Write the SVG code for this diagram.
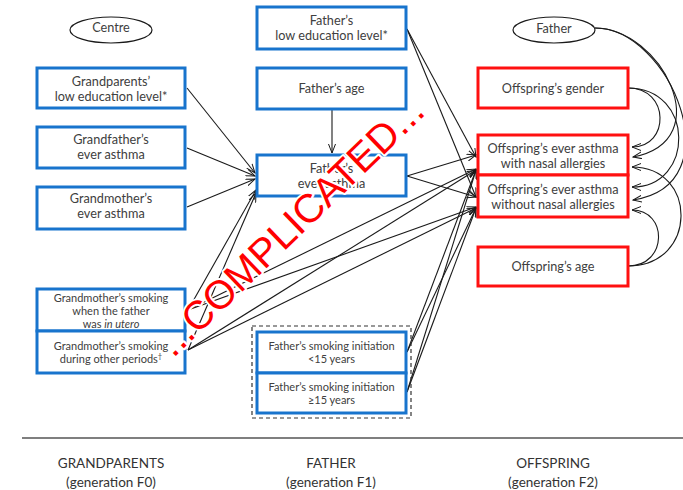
<svg xmlns="http://www.w3.org/2000/svg" width="683" height="490" viewBox="0 0 683 490">
  <style>
    .bb { fill: #ffffff; stroke: #1874cd; stroke-width: 3; }
    .rb { fill: #ffffff; stroke: #ff1010; stroke-width: 3; }
    .el { fill: #ffffff; stroke: #1a1a1a; stroke-width: 1.2; }
    .dash { fill: none; stroke: #333333; stroke-width: 1.2; stroke-dasharray: 4 3; }
    .t { font-family: Lato, "Liberation Sans", sans-serif; font-size: 12.7px; fill: #404040; text-anchor: middle; }
    .s { font-family: Lato, "Liberation Sans", sans-serif; font-size: 11px; fill: #404040; text-anchor: middle; }
    .g { font-family: Lato, "Liberation Sans", sans-serif; font-size: 13.5px; fill: #333333; text-anchor: middle; }
    .c { fill: none; stroke: #1a1a1a; stroke-width: 1.1; marker-end: url(#arr); }
    .wm { font-family: "Liberation Sans", Arial, sans-serif; font-size: 40px; fill: #ff0000; stroke: #ffffff; stroke-width: 4; paint-order: stroke; stroke-linejoin: round; text-anchor: middle; }
  </style>
  <defs>
    <marker id="arr" viewBox="0 0 10 8" refX="9" refY="4" markerWidth="10" markerHeight="8" markerUnits="userSpaceOnUse" orient="auto">
      <path d="M0,0.5 L9,4 L0,7.5" fill="none" stroke="#1a1a1a" stroke-width="1"/>
    </marker>
  </defs>
  <rect width="683" height="490" fill="#ffffff"/>

  <!-- connectors -->
  <g id="connectors">
    <!-- into father's ever asthma -->
    <path class="c" d="M187,88 L255,173"/>
    <path class="c" d="M187,148 L255,176"/>
    <path class="c" d="M187,207 L255,179"/>
    <path class="c" d="M188,310 L256,190"/>
    <path class="c" d="M188,350 L256,193"/>
    <path class="c" d="M332,110 L332,153"/>
    <!-- into offspring outcomes, left side -->
    <path class="c" d="M407,29 L476,157"/>
    <path class="c" d="M407,29 L476,197"/>
    <path class="c" d="M407,176 L476,155"/>
    <path class="c" d="M407,176 L476,197"/>
    <path class="c" d="M188,310 L476,169"/>
    <path class="c" d="M188,310 L476,207"/>
    <path class="c" d="M188,350 L476,170"/>
    <path class="c" d="M188,350 L476,208"/>
    <path class="c" d="M407,352 L476,170"/>
    <path class="c" d="M407,352 L476,208"/>
    <path class="c" d="M407,392 L476,170"/>
    <path class="c" d="M407,392 L476,208"/>
    <!-- curved adjustments, right side -->
    <path class="c" d="M628,88 C670,88 670,147 632,147"/>
    <path class="c" d="M628,88 C695,88 695,187 632,187"/>
    <path class="c" d="M595,28 C660,28 720,140 633,157"/>
    <path class="c" d="M595,28 C670,28 735,185 633,200"/>
    <path class="c" d="M628,266 C698,266 698,167 632,167"/>
    <path class="c" d="M628,266 C668,266 668,210 632,210"/>
  </g>

  <!-- grandparents column -->
  <g id="centre">
    <ellipse class="el" cx="111" cy="30" rx="41" ry="13"/>
    <text class="t" x="111" y="32">Centre</text>
  </g>
  <g id="gp-education">
    <rect class="bb" x="37" y="68" width="148" height="40"/>
    <text class="t" x="111" y="86">Grandparents’</text>
    <text class="t" x="111" y="101">low education level*</text>
  </g>
  <g id="gf-asthma">
    <rect class="bb" x="37" y="127" width="148" height="41"/>
    <text class="t" x="111" y="144">Grandfather’s</text>
    <text class="t" x="111" y="159">ever asthma</text>
  </g>
  <g id="gm-asthma">
    <rect class="bb" x="37" y="187" width="148" height="42"/>
    <text class="t" x="111" y="203">Grandmother’s</text>
    <text class="t" x="111" y="218">ever asthma</text>
  </g>
  <g id="gm-smoking-utero">
    <rect class="bb" x="37" y="289" width="148" height="42"/>
    <text class="s" x="111" y="302">Grandmother’s smoking</text>
    <text class="s" x="111" y="315">when the father</text>
    <text class="s" x="111" y="328">was <tspan font-style="italic">in utero</tspan></text>
  </g>
  <g id="gm-smoking-other">
    <rect class="bb" x="37" y="331" width="148" height="42"/>
    <text class="s" x="111" y="350">Grandmother’s smoking</text>
    <text class="s" x="111" y="363">during other periods<tspan font-size="7.5" dy="-4">†</tspan></text>
  </g>

  <!-- father column -->
  <g id="f-education">
    <rect class="bb" x="257" y="7" width="149" height="42"/>
    <text class="t" x="331.5" y="25">Father’s</text>
    <text class="t" x="331.5" y="40">low education level*</text>
  </g>
  <g id="f-age">
    <rect class="bb" x="257" y="68" width="149" height="41"/>
    <text class="t" x="331.5" y="93">Father’s age</text>
  </g>
  <g id="f-asthma">
    <rect class="bb" x="257" y="155" width="149" height="41"/>
    <text class="t" x="331.5" y="173">Father’s</text>
    <text class="t" x="331.5" y="188">ever asthma</text>
  </g>
  <g id="f-smoking">
    <rect class="dash" x="252" y="326" width="159" height="92"/>
    <g id="f-smoking-lt15">
      <rect class="bb" x="257" y="332" width="149" height="41"/>
      <text class="s" x="331.5" y="350">Father’s smoking initiation</text>
      <text class="s" x="331.5" y="363">&lt;15 years</text>
    </g>
    <g id="f-smoking-ge15">
      <rect class="bb" x="257" y="373" width="149" height="40"/>
      <text class="s" x="331.5" y="391">Father’s smoking initiation</text>
      <text class="s" x="331.5" y="404">≥15 years</text>
    </g>
  </g>

  <!-- offspring column -->
  <g id="father">
    <ellipse class="el" cx="554" cy="30" rx="41" ry="13"/>
    <text class="t" x="554" y="33">Father</text>
  </g>
  <g id="o-gender">
    <rect class="rb" x="478" y="68" width="150" height="40"/>
    <text class="t" x="553" y="93">Offspring’s gender</text>
  </g>
  <g id="o-asthma-allergy">
    <rect class="rb" x="478" y="135" width="150" height="40"/>
    <text class="t" x="553" y="153">Offspring’s ever asthma</text>
    <text class="t" x="553" y="168">with nasal allergies</text>
  </g>
  <g id="o-asthma-noallergy">
    <rect class="rb" x="478" y="175" width="150" height="42"/>
    <text class="t" x="553" y="194">Offspring’s ever asthma</text>
    <text class="t" x="553" y="209">without nasal allergies</text>
  </g>
  <g id="o-age">
    <rect class="rb" x="478" y="247" width="150" height="39"/>
    <text class="t" x="553" y="271">Offspring’s age</text>
  </g>

  <!-- generation axis -->
  <line x1="22" y1="438" x2="683" y2="438" stroke="#555555" stroke-width="1.5"/>
  <text class="g" x="111" y="468">GRANDPARENTS</text>
  <text class="g" x="111" y="487">(generation F0)</text>
  <text class="g" x="331" y="468">FATHER</text>
  <text class="g" x="331" y="487">(generation F1)</text>
  <text class="g" x="553" y="468">OFFSPRING</text>
  <text class="g" x="553" y="487">(generation F2)</text>

  <!-- overlay stamp -->
  <text class="wm" x="300" y="236" transform="rotate(-44 300 236)">...COMPLICATED...</text>
</svg>
